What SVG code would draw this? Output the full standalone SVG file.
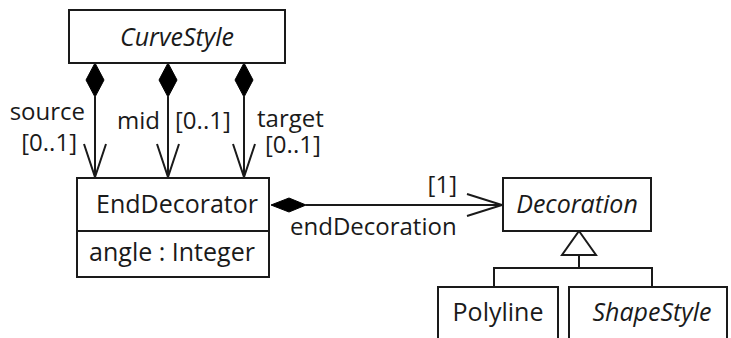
<svg xmlns="http://www.w3.org/2000/svg" width="731" height="338" viewBox="0 0 731 338">
<style>
.box{fill:#fff;stroke:#1a1a1a;stroke-width:2}
.ln{fill:none;stroke:#1a1a1a;stroke-width:2}
.dia{fill:#000;stroke:#000;stroke-width:1}
.t{font-family:"Open Sans","DejaVu Sans",sans-serif;font-size:24px;fill:#1a1a1a}
.n{font-size:25px}
.i{font-style:italic}
.m{text-anchor:middle}
</style>
<rect width="731" height="338" fill="#fff"/>
<g id="connectors">
<line class="ln" x1="95" y1="97" x2="95" y2="177"/>
<polygon class="dia" points="95,63 104,80 95,97 86,80"/>
<polyline class="ln" points="84,144 95,177 106,144"/>
<line class="ln" x1="168" y1="97" x2="168" y2="177"/>
<polygon class="dia" points="168,63 177,80 168,97 159,80"/>
<polyline class="ln" points="157,144 168,177 179,144"/>
<line class="ln" x1="244" y1="97" x2="244" y2="177"/>
<polygon class="dia" points="244,63 253,80 244,97 235,80"/>
<polyline class="ln" points="233,144 244,177 255,144"/>
<line class="ln" x1="306" y1="205" x2="502" y2="205"/>
<polygon class="dia" points="271,205 289,198 306,205 289,212"/>
<polyline class="ln" points="467,194 502,205 467,216"/>
<polygon class="box" points="579,231 596,255 562,255"/>
<polyline class="ln" points="579,255 579,268"/>
<polyline class="ln" points="494,287 494,268 652,268 652,287"/>
<text class="t" text-anchor="end"><tspan x="85" y="120">source</tspan><tspan x="77" y="151">[0..1]</tspan></text>
<text class="t" x="160" y="129" text-anchor="end">mid</text>
<text class="t" x="175" y="129">[0..1]</text>
<text class="t"><tspan x="257" y="127">target</tspan><tspan x="265" y="153">[0..1]</tspan></text>
<text class="t" x="290" y="235">endDecoration</text>
<text class="t" x="457" y="193" text-anchor="end">[1]</text>
</g>
<g id="CurveStyle">
<rect class="box" x="69" y="10" width="216" height="53"/>
<text class="t n i m" x="177" y="46">CurveStyle</text>
</g>
<g id="EndDecorator">
<rect class="box" x="77" y="178" width="192" height="99"/>
<line class="ln" x1="77" y1="231" x2="269" y2="231"/>
<text class="t n m" x="177" y="213">EndDecorator</text>
<text class="t n m" x="172" y="261">angle : Integer</text>
</g>
<g id="Decoration">
<rect class="box" x="503" y="178" width="148" height="53"/>
<text class="t n i m" x="577" y="213">Decoration</text>
</g>
<g id="Polyline">
<rect class="box" x="438" y="287" width="120" height="60"/>
<text class="t n m" x="498" y="321">Polyline</text>
</g>
<g id="ShapeStyle">
<rect class="box" x="569" y="287" width="158" height="60"/>
<text class="t n i m" x="652" y="321">ShapeStyle</text>
</g>
</svg>
